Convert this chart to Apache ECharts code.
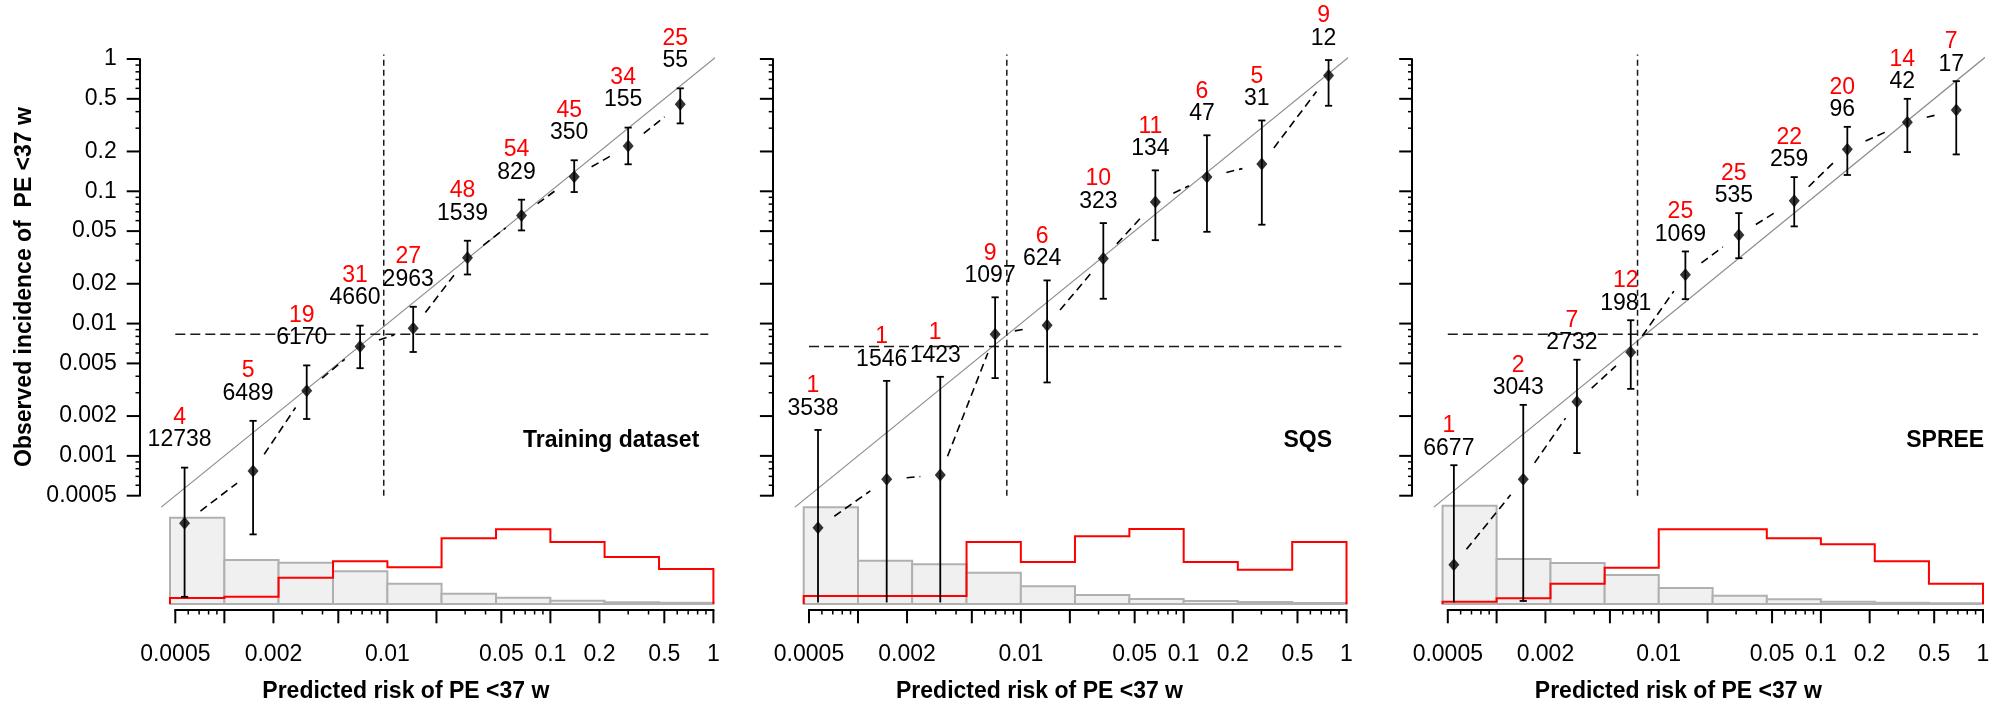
<!DOCTYPE html>
<html><head><meta charset="utf-8">
<script src="https://cdn.jsdelivr.net/npm/echarts@6.0.0/dist/echarts.min.js"></script>
<style>html,body{margin:0;padding:0;background:#fff}#c{width:1991px;height:707px}</style>
</head><body><div id="c"></div>
<script>
// ================= DATA =================
const panelNames = ['Training dataset', 'SQS', 'SPREE'];
const binEdges = [0.000464, 0.001, 0.00215, 0.00464, 0.01, 0.0215, 0.0464, 0.1, 0.215, 0.464, 1];

// Training dataset
const predTrain = [0.00057, 0.0015, 0.0032, 0.0068, 0.0144, 0.031, 0.0665, 0.14, 0.30, 0.626];
const obsTrain  = [0.00031, 0.00077, 0.0031, 0.0067, 0.0092, 0.0315, 0.0655, 0.129, 0.22, 0.455];
const loTrain   = [0.000086, 0.000255, 0.0019, 0.0046, 0.0061, 0.0235, 0.0506, 0.0987, 0.16, 0.326];
const hiTrain   = [0.000815, 0.00184, 0.00483, 0.00965, 0.0134, 0.0423, 0.0864, 0.1716, 0.303, 0.60];
const eventsTrain = [4, 5, 19, 31, 27, 48, 54, 45, 34, 25];
const nTrain      = [12738, 6489, 6170, 4660, 2963, 1539, 829, 350, 155, 55];
const histAllTrain = [86.3, 44, 41.3, 32.7, 20.3, 10.3, 6.3, 3.3, 1.7, 1.3];
const histEvTrain  = [6, 7.3, 26.3, 42.7, 36.7, 65.7, 74.7, 62, 47, 35];

// SQS
const predSQS = [0.000568, 0.0015, 0.0032, 0.00695, 0.0145, 0.0321, 0.067, 0.139, 0.302, 0.776];
const obsSQS  = [0.000286, 0.000665, 0.000718, 0.0083, 0.0097, 0.031, 0.083, 0.128, 0.161, 0.75];
const loSQS   = [0.000005, 0.000006, 0.000006, 0.00387, 0.00359, 0.0154, 0.0427, 0.0494, 0.0559, 0.443];
const hiSQS   = [0.00157, 0.00369, 0.00396, 0.0158, 0.0212, 0.0575, 0.144, 0.265, 0.343, 0.982];
const eventsSQS = [1, 1, 1, 9, 6, 10, 11, 6, 5, 9];
const nSQS      = [3538, 1546, 1423, 1097, 624, 323, 134, 47, 31, 12];
const histAllSQS = [96.7, 43.3, 39.7, 31.3, 17.7, 9, 5, 3, 2, 1];
const histEvSQS  = [8, 8, 8, 62, 42, 67.7, 75, 42, 34.3, 62];

// SPREE
const predSPREE = [0.000545, 0.00146, 0.00313, 0.00672, 0.0146, 0.0312, 0.0685, 0.1456, 0.3415, 0.684];
const obsSPREE  = [0.00015, 0.000665, 0.00257, 0.00606, 0.0234, 0.0467, 0.085, 0.208, 0.333, 0.412];
const loSPREE   = [0.000004, 0.00008, 0.00105, 0.00321, 0.0153, 0.0312, 0.0543, 0.1328, 0.198, 0.19];
const hiSPREE   = [0.00085, 0.00243, 0.00533, 0.0106, 0.0351, 0.0684, 0.128, 0.307, 0.5, 0.68];
const eventsSPREE = [1, 2, 7, 12, 25, 25, 22, 20, 14, 7];
const nSPREE      = [6677, 3043, 2732, 1981, 1069, 535, 259, 96, 42, 17];
const histAllSPREE = [98.3, 45, 41, 29, 16, 8.3, 4.7, 2.3, 1.3, 0.7];
const histEvSPREE  = [2.3, 5.7, 20.3, 36.3, 74.7, 74.7, 65.7, 59.7, 42.7, 20.3];

// reference lines
const vLineX = [0.0095, 0.0082, 0.0074];   // vertical dashed (predicted)
const hLineY = [0.0083, 0.0067, 0.0083];   // horizontal dashed (observed overall)
const diagRange = [0.00041, 1.03];

// axis ticks
const yMajor = [1, 0.5, 0.2, 0.1, 0.05, 0.02, 0.01, 0.005, 0.002, 0.001, 0.0005];
const yLabels = ['1', '0.5', '0.2', '0.1', '0.05', '0.02', '0.01', '0.005', '0.002', '0.001', '0.0005'];
const xMajor = [0.0005, 0.001, 0.002, 0.005, 0.01, 0.02, 0.05, 0.1, 0.2, 0.5, 1];
const xLabels = ['0.0005', '', '0.002', '', '0.01', '', '0.05', '0.1', '0.2', '0.5', '1'];

const yTitle = 'Observed incidence of  PE <37 w';
const xTitle = 'Predicted risk of PE <37 w';

// ================= LAYOUT / STYLE =================
const FONT = '"Liberation Sans", Arial, Helvetica, sans-serif';
const AXIS_X = [139.3, 772.5, 1411.8];
const X0 = [175.3, 809, 1447.8];     // pixel of 0.0005
const X1 = [713.4, 1346.5, 1983];    // pixel of 1
const MAIN_TOP = 59, MAIN_H = 436.7;
const HIST_BASE = 604, HIST_H = 100;
const LABEL_OFF = [27.5, 21.5, 17];
const YFLOOR = 7.8e-5;
const NAME_RIGHT = [699.3, 1332.1, 1984.2];
const POINT_GAP = 20;   // gap of the connecting dashed line around points

const panels = [
  {pred: predTrain, obs: obsTrain, lo: loTrain, hi: hiTrain, ev: eventsTrain, n: nTrain, hAll: histAllTrain, hEv: histEvTrain},
  {pred: predSQS, obs: obsSQS, lo: loSQS, hi: hiSQS, ev: eventsSQS, n: nSQS, hAll: histAllSQS, hEv: histEvSQS},
  {pred: predSPREE, obs: obsSPREE, lo: loSPREE, hi: hiSPREE, ev: eventsSPREE, n: nSPREE, hAll: histAllSPREE, hEv: histEvSPREE}
];

// minor ticks (log axis decoration)
function minorTicks(lowExp, highExp) {
  const out = [];
  for (let e = lowExp; e < highExp; e++) {
    [3, 4, 6, 7, 8, 9].forEach(m => out.push(m * Math.pow(10, e)));
  }
  return out;
}
const minorAll = minorTicks(-4, 0).filter(v => v >= 0.0005 && v <= 1);

const grids = [], xAxes = [], yAxes = [], series = [], graphics = [];

panels.forEach((P, p) => {
  const pxd = (X1[p] - X0[p]) / Math.log10(2000);
  const xmin = 0.0005 * Math.pow(10, -(X0[p] - AXIS_X[p]) / pxd);
  const gMain = 2 * p, gHist = 2 * p + 1;
  grids.push({left: AXIS_X[p], top: MAIN_TOP, width: X1[p] - AXIS_X[p], height: MAIN_H});
  grids.push({left: AXIS_X[p], top: HIST_BASE - HIST_H, width: X1[p] - AXIS_X[p], height: HIST_H});
  xAxes.push({type: 'log', gridIndex: gMain, min: xmin, max: 1, show: false});
  xAxes.push({type: 'log', gridIndex: gHist, min: xmin, max: 1, show: false});
  yAxes.push({type: 'log', gridIndex: gMain, min: 0.0005, max: 1,
    axisLine: {show: true, lineStyle: {color: '#000', width: 2}},
    axisTick: {show: false}, axisLabel: {show: false}, splitLine: {show: false}});
  yAxes.push({type: 'value', gridIndex: gHist, min: 0, max: 100, show: false});

  // histogram gray bars
  series.push({
    type: 'custom', xAxisIndex: gHist, yAxisIndex: gHist, z: 1, silent: true,
    data: P.hAll.map((h, i) => [binEdges[i], binEdges[i + 1], h]),
    encode: {x: [0, 1], y: 2},
    renderItem: (params, api) => {
      const a = api.coord([api.value(0), 0]);
      const b = api.coord([api.value(1), api.value(2)]);
      return {type: 'rect', shape: {x: a[0], y: b[1], width: b[0] - a[0], height: a[1] - b[1]},
        style: {fill: '#f0f0f0', stroke: '#b0b0b0', lineWidth: 2}};
    }
  });
  // histogram red step outline
  series.push({
    type: 'custom', xAxisIndex: gHist, yAxisIndex: gHist, z: 2, silent: true,
    data: [[binEdges[0], 1]],
    renderItem: (params, api) => {
      const pts = [api.coord([binEdges[0], 0])];
      P.hEv.forEach((h, i) => {
        pts.push(api.coord([binEdges[i], h]));
        pts.push(api.coord([binEdges[i + 1], h]));
      });
      pts.push(api.coord([binEdges[binEdges.length - 1], 0]));
      return {type: 'polyline', shape: {points: pts}, style: {stroke: '#ff0000', fill: null, lineWidth: 2}};
    }
  });
  // x axis (line, ticks, labels)
  series.push({
    type: 'custom', xAxisIndex: gHist, yAxisIndex: gHist, z: 2, silent: true,
    data: [[1, 1]],
    renderItem: (params, api) => {
      const ch = [];
      const yA = api.coord([1, 0])[1] + 6;
      const xa = api.coord([xMajor[0], 0])[0], xb = api.coord([xMajor[xMajor.length - 1], 0])[0];
      ch.push({type: 'line', shape: {x1: xa - 1, y1: yA, x2: xb + 1, y2: yA}, style: {stroke: '#000', lineWidth: 2}});
      xMajor.forEach((v, i) => {
        const x = api.coord([v, 0])[0];
        ch.push({type: 'line', shape: {x1: x, y1: yA, x2: x, y2: yA + 13.3}, style: {stroke: '#000', lineWidth: 2}});
        if (xLabels[i]) ch.push({type: 'text', x: x, y: yA + 45,
          style: {text: xLabels[i], fill: '#000', font: '23px ' + FONT, align: 'center', verticalAlign: 'middle'}});
      });
      minorAll.forEach(v => {
        const x = api.coord([v, 0])[0];
        ch.push({type: 'line', shape: {x1: x, y1: yA, x2: x, y2: yA + 4.5}, style: {stroke: '#000', lineWidth: 1.5}});
      });
      return {type: 'group', children: ch};
    }
  });
  // y axis ticks & labels
  series.push({
    type: 'custom', xAxisIndex: gMain, yAxisIndex: gMain, z: 2, silent: true,
    data: [[1, 1]],
    renderItem: (params, api) => {
      const ch = [];
      const xA = api.coord([xmin, 1])[0];
      yMajor.forEach((v, i) => {
        const y = api.coord([xmin, v])[1];
        ch.push({type: 'line', shape: {x1: xA - 12.6, y1: y, x2: xA, y2: y}, style: {stroke: '#000', lineWidth: 2}});
        if (p === 0) ch.push({type: 'text', x: xA - 22.6, y: y,
          style: {text: yLabels[i], fill: '#000', font: '23px ' + FONT, align: 'right', verticalAlign: 'middle'}});
      });
      minorAll.forEach(v => {
        const y = api.coord([xmin, v])[1];
        ch.push({type: 'line', shape: {x1: xA - 3.8, y1: y, x2: xA, y2: y}, style: {stroke: '#000', lineWidth: 1.5}});
      });
      return {type: 'group', children: ch};
    }
  });
  // diagonal y = x
  series.push({type: 'line', xAxisIndex: gMain, yAxisIndex: gMain, z: 2, silent: true, clip: false,
    symbol: 'none', data: [[diagRange[0], diagRange[0]], [diagRange[1], diagRange[1]]],
    lineStyle: {color: '#8c8c8c', width: 1.2}});
  // threshold lines
  series.push({type: 'line', xAxisIndex: gMain, yAxisIndex: gMain, z: 2, silent: true, clip: false,
    symbol: 'none', data: [[vLineX[p], 0.0005], [vLineX[p], 1.08]],
    lineStyle: {color: '#1a1a1a', width: 1.5, type: [6, 4]}});
  series.push({type: 'line', xAxisIndex: gMain, yAxisIndex: gMain, z: 2, silent: true, clip: false,
    symbol: 'none', data: [[0.0005, hLineY[p]], [0.93, hLineY[p]]],
    lineStyle: {color: '#1a1a1a', width: 1.5, type: [10, 5]}});
  // dashed line joining observed points, with gaps around points
  series.push({
    type: 'custom', xAxisIndex: gMain, yAxisIndex: gMain, z: 3, silent: true,
    data: P.pred.map((x, i) => [x, P.obs[i]]),
    renderItem: (params, api) => {
      const i = params.dataIndex;
      if (i >= P.pred.length - 1) return null;
      const a = api.coord([P.pred[i], P.obs[i]]);
      const b = api.coord([P.pred[i + 1], P.obs[i + 1]]);
      const dx = b[0] - a[0], dy = b[1] - a[1];
      const L = Math.sqrt(dx * dx + dy * dy);
      if (L <= 2 * POINT_GAP) return null;
      const ux = dx / L, uy = dy / L;
      return {type: 'line',
        shape: {x1: a[0] + ux * POINT_GAP, y1: a[1] + uy * POINT_GAP, x2: b[0] - ux * POINT_GAP, y2: b[1] - uy * POINT_GAP},
        style: {stroke: '#000', lineWidth: 1.6, lineDash: [8, 5]}};
    }
  });
  // error bars
  series.push({
    type: 'custom', xAxisIndex: gMain, yAxisIndex: gMain, z: 4, silent: true,
    data: P.pred.map((x, i) => [x, P.obs[i], P.lo[i], P.hi[i]]),
    renderItem: (params, api) => {
      const x = api.value(0), lo = api.value(2), hi = api.value(3);
      const t = api.coord([x, hi]);
      const b = api.coord([x, Math.max(lo, YFLOOR)]);
      const st = {stroke: '#000', lineWidth: 1.8};
      const ch = [
        {type: 'line', shape: {x1: t[0], y1: t[1], x2: b[0], y2: b[1]}, style: st},
        {type: 'line', shape: {x1: t[0] - 3.6, y1: t[1], x2: t[0] + 3.6, y2: t[1]}, style: st}
      ];
      if (lo >= YFLOOR) ch.push({type: 'line', shape: {x1: b[0] - 3.6, y1: b[1], x2: b[0] + 3.6, y2: b[1]}, style: st});
      return {type: 'group', children: ch};
    }
  });
  // diamonds
  series.push({type: 'scatter', xAxisIndex: gMain, yAxisIndex: gMain, z: 5, silent: true, clip: false,
    symbol: 'diamond', symbolSize: [11, 13], itemStyle: {color: '#000'},
    data: P.pred.map((x, i) => [x, P.obs[i]])});
  // counts labels
  series.push({
    type: 'custom', xAxisIndex: gMain, yAxisIndex: gMain, z: 6, silent: true,
    data: P.pred.map((x, i) => [x, P.hi[i], P.ev[i], P.n[i]]),
    renderItem: (params, api) => {
      const c = api.coord([api.value(0), api.value(1)]);
      const x = c[0] - 5, y = c[1] - LABEL_OFF[p];
      return {type: 'group', children: [
        {type: 'text', x: x, y: y, style: {text: String(api.value(3)), fill: '#000', font: '23px ' + FONT, align: 'center', verticalAlign: 'middle'}},
        {type: 'text', x: x, y: y - 22.5, style: {text: String(api.value(2)), fill: '#ff0000', font: '23px ' + FONT, align: 'center', verticalAlign: 'middle'}}
      ]};
    }
  });

  // texts
  graphics.push({type: 'text', x: NAME_RIGHT[p], y: 441, silent: true,
    style: {text: panelNames[p], fill: '#000', font: 'bold 23px ' + FONT, align: 'right', verticalAlign: 'middle'}});
  graphics.push({type: 'text', x: X0[p] + 230.5, y: 691.5, silent: true,
    style: {text: xTitle, fill: '#000', font: 'bold 23px ' + FONT, align: 'center', verticalAlign: 'middle'}});
});

graphics.push({type: 'text', x: 25, y: 287, rotation: Math.PI / 2, silent: true,
  style: {text: yTitle, fill: '#000', font: 'bold 23px ' + FONT, align: 'center', verticalAlign: 'middle'}});

const chart = echarts.init(document.getElementById('c'), null, {renderer: 'canvas'});
chart.setOption({
  animation: false,
  backgroundColor: '#ffffff',
  grid: grids, xAxis: xAxes, yAxis: yAxes, series: series, graphic: graphics
});
</script></body></html>
